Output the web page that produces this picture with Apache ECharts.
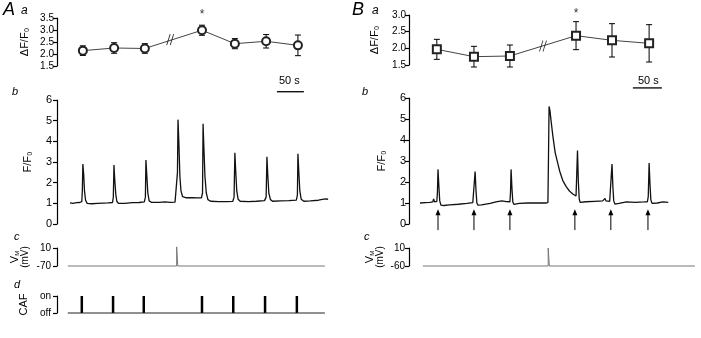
<!DOCTYPE html>
<html>
<head>
<meta charset="utf-8">
<script src="https://cdn.jsdelivr.net/npm/echarts@6/dist/echarts.min.js"></script>
<style>
html, body { margin: 0; padding: 0; background: #fff; }
#chart { width: 701px; height: 338px; }
</style>
</head>
<body>
<div id="chart"></div>
<script>
// ---- data (time in s) ----
// A: summary of caffeine responses
const aTimesA = [48, 106, 163, 269, 330, 388, 447];
const aMeanA  = [2.14, 2.25, 2.23, 2.99, 2.43, 2.53, 2.36];
const aErrA   = [0.2, 0.22, 0.2, 0.21, 0.21, 0.28, 0.43];
const breakA  = [[210, 2.6]];
const starA   = [[269, 3.62]];

// B: summary
const aTimesB = [48, 112, 174, 288, 350, 414];
const aMeanB  = [1.97, 1.75, 1.77, 2.38, 2.24, 2.15];
const aErrB   = [0.3, 0.31, 0.33, 0.42, 0.5, 0.56];
const breakB  = [[231, 2.07]];
const starB   = [[288, 3.04]];

// F/F0 traces
const traceA = [
  [24,1.02],[30,1.0],[36,1.03],[42,1.04],[46,1.08],[47,1.6],[48,2.9],[49.5,2.4],[51,1.6],[53,1.15],[56,1.0],
  [65,0.98],[75,1.0],[85,1.01],[95,1.02],[103,1.04],[104.5,1.3],[105.7,2.85],[107,2.2],[109,1.45],[111,1.1],[114,1.0],
  [125,1.0],[140,1.03],[152,1.04],[162,1.07],[164,1.3],[165,3.1],[166.5,2.4],[168.5,1.5],[171,1.12],[175,1.05],
  [190,1.05],[200,1.07],[210,1.05],[219,1.06],[222,1.1],[223.5,2.5],[224.5,5.05],[226,4.0],[228,2.3],[230,1.6],[233,1.32],
  [240,1.27],[250,1.28],[260,1.26],[268,1.27],[270,1.5],[271,4.85],[272.5,3.7],[274.5,2.3],[277,1.5],[280,1.18],[285,1.1],
  [300,1.08],[315,1.08],[326,1.09],[328.5,1.3],[330,3.45],[331.5,2.6],[333.5,1.6],[336,1.2],[340,1.1],
  [355,1.08],[370,1.1],[385,1.13],[388,1.3],[389.5,3.25],[391,2.4],[393,1.5],[396,1.18],[400,1.1],
  [415,1.12],[430,1.13],[444,1.16],[446,1.4],[447,3.4],[448.5,2.6],[450.5,1.6],[453,1.2],[458,1.1],
  [470,1.12],[485,1.15],[495,1.2],[500,1.22],[503,1.19]
];
const traceB = [
  [19,1.0],[28,1.02],[36,1.03],[41,1.05],[42.5,1.2],[44,1.05],[48,1.08],[49,1.5],[50,2.6],[51.5,1.8],[53,1.1],[55,0.9],
  [60,0.88],[70,0.91],[85,0.94],[100,0.98],[110,1.02],[112.5,1.1],[114,2.5],[115.5,1.6],[117,1.0],[119,0.9],
  [125,0.91],[140,0.98],[150,1.05],[160,1.1],[168,1.07],[174,1.06],[175,1.5],[176,2.6],[177.5,1.7],[179,1.05],[181,0.93],
  [190,0.98],[205,1.0],[220,1.0],[235,1.0],[239.5,1.02],[240.5,3.2],[241.5,5.6],[243,5.4],[245,4.9],[248,4.2],[252,3.4],
  [256,2.95],[260,2.5],[265,2.08],[271,1.78],[277,1.56],[283,1.42],[288,1.33],[289.5,1.4],[290.5,3.5],[292,2.0],[293.5,1.2],
  [295,1.03],[305,1.06],[320,1.08],[334,1.1],[337,1.13],[338,1.22],[339.5,1.1],[346,1.08],[348.5,1.15],[350,2.85],
  [351.5,1.8],[353,1.1],[355,0.95],[362,0.98],[375,1.05],[390,1.03],[405,1.05],[411,1.06],[412.5,1.3],[414,2.9],
  [415.5,1.9],[417,1.15],[419,0.98],[428,1.0],[438,1.05],[447,1.03]
];
// caffeine arrows under trace B: time, tail, tip (F/F0 units)
const arrowTimesB = [50, 112, 174, 286, 348, 412];
const arrowTail = -0.29;
const arrowTip = 0.7;

// membrane potential (mV)
const vmA = [[20,-70],[222,-70],[222,15],[224,15],[224,-70],[497,-70]];
const vmB = [[24,-60],[240,-60],[240,10],[242,10],[242,-60],[493,-60]];
const vmTicksA = [-70, 10];
const vmTicksB = [-60, 10];

// caffeine application
const cafTimesA = [46, 104, 161, 269, 327, 386, 445];
const cafBaseA = [[20,0],[497,0]];

// 50 s scale bars
const scaleA = [[408,6.4],[458,6.4]];
const scaleB = [[386,6.48],[436,6.48]];

// ---- layout helpers ----
const FONT = 'Liberation Sans';
const chart = echarts.init(document.getElementById('chart'));

// px position of t=0 and px per second for each half
const scA = { x0: 57, pps: 0.539 };
const scB = { x0: 409, pps: 0.58 };

const grids = [
  { left: 57, top: 18, width: 275, height: 48 },   // 0 Aa
  { left: 55, top: 100, width: 277, height: 124 }, // 1 Ab
  { left: 54, top: 248, width: 278, height: 18 },  // 2 Ac
  { left: 54, top: 296, width: 278, height: 17 },  // 3 Ad
  { left: 409, top: 15, width: 290, height: 50 },  // 4 Ba
  { left: 409, top: 98, width: 290, height: 126 }, // 5 Bb
  { left: 408, top: 248, width: 291, height: 18 }  // 6 Bc
];
const scales = [scA, scA, scA, scA, scB, scB, scB];

const xAxes = grids.map((g, i) => ({
  type: 'value', gridIndex: i, show: false,
  min: (g.left - scales[i].x0) / scales[i].pps,
  max: (g.left + g.width - scales[i].x0) / scales[i].pps
}));

function yAx(gi, min, max, extra) {
  return Object.assign({
    type: 'value', gridIndex: gi, min: min, max: max,
    axisLine: { show: true, lineStyle: { color: '#000', width: 1.2 } },
    axisTick: { show: true, length: 4, lineStyle: { color: '#000', width: 1.2 } },
    splitLine: { show: false },
    axisLabel: { color: '#000', fontFamily: FONT, fontSize: 11, margin: 3 },
    nameLocation: 'middle', nameRotate: 90,
    nameTextStyle: { color: '#000', fontFamily: FONT, fontSize: 11 }
  }, extra);
}

const vmName = {
  color: '#000', fontFamily: FONT, fontSize: 10, lineHeight: 10,
  rich: {
    v: { fontFamily: FONT, fontSize: 11, color: '#000' },
    m: { fontFamily: FONT, fontSize: 6, color: '#000', verticalAlign: 'bottom' }
  }
};

const yAxes = [
  yAx(0, 1.5, 3.5, { interval: 0.5, name: 'ΔF/F₀', nameGap: 27,
    axisLabel: { color: '#000', fontFamily: FONT, fontSize: 10, margin: 3, formatter: v => v.toFixed(1) } }),
  yAx(1, 0, 6, { interval: 1, name: 'F/F₀', nameGap: 22 }),
  yAx(2, -70, 10, {
    axisTick: { show: true, length: 4, customValues: vmTicksA, lineStyle: { color: '#000', width: 1.2 } },
    axisLabel: { color: '#000', fontFamily: FONT, fontSize: 10, margin: 3, customValues: vmTicksA },
    name: '{v|V}{m|M}\n(mV)', nameGap: 24, nameTextStyle: vmName
  }),
  yAx(3, 0, 1, { interval: 1, name: 'CAF', nameGap: 25,
    axisLabel: { color: '#000', fontFamily: FONT, fontSize: 10, margin: 3, formatter: v => v ? 'on' : 'off' } }),
  yAx(4, 1.5, 3.0, { interval: 0.5, name: 'ΔF/F₀', nameGap: 29,
    axisLabel: { color: '#000', fontFamily: FONT, fontSize: 10, margin: 3, formatter: v => v.toFixed(1) } }),
  yAx(5, 0, 6, { interval: 1, name: 'F/F₀', nameGap: 22 }),
  yAx(6, -60, 10, {
    axisTick: { show: true, length: 4, customValues: vmTicksB, lineStyle: { color: '#000', width: 1.2 } },
    axisLabel: { color: '#000', fontFamily: FONT, fontSize: 10, margin: 3, customValues: vmTicksB },
    name: '{v|V}{m|M}\n(mV)', nameGap: 23, nameTextStyle: vmName
  })
];

// error bars with small caps
function renderErr(params, api) {
  const x = api.value(0);
  const top = api.coord([x, api.value(2)]);
  const bot = api.coord([x, api.value(1)]);
  const w = 3;
  const st = { stroke: '#000', lineWidth: 1 };
  return {
    type: 'group', children: [
      { type: 'line', shape: { x1: top[0], y1: top[1], x2: bot[0], y2: bot[1] }, style: st },
      { type: 'line', shape: { x1: top[0] - w, y1: top[1], x2: top[0] + w, y2: top[1] }, style: st },
      { type: 'line', shape: { x1: bot[0] - w, y1: bot[1], x2: bot[0] + w, y2: bot[1] }, style: st }
    ]
  };
}

// upward arrow from tail to tip
function renderArrow(params, api) {
  const t = api.value(0);
  const p0 = api.coord([t, api.value(1)]);
  const p1 = api.coord([t, api.value(2)]);
  return {
    type: 'group', children: [
      { type: 'line', shape: { x1: p0[0], y1: p0[1], x2: p1[0], y2: p1[1] + 4 },
        style: { stroke: '#000', lineWidth: 1 } },
      { type: 'polygon', shape: { points: [[p1[0], p1[1]], [p1[0] - 2.5, p1[1] + 6], [p1[0] + 2.5, p1[1] + 6]] },
        style: { fill: '#000' } }
    ]
  };
}

function summarySeries(gi, times, mean, err, symbol, brk, star) {
  return [
    { type: 'custom', xAxisIndex: gi, yAxisIndex: gi, renderItem: renderErr, z: 2, silent: true,
      data: times.map((t, i) => [t, mean[i] - err[i], mean[i] + err[i]]) },
    { type: 'line', xAxisIndex: gi, yAxisIndex: gi, z: 3, silent: true,
      data: times.map((t, i) => [t, mean[i]]),
      symbol: symbol, symbolSize: 8,
      lineStyle: { color: '#444', width: 1 },
      itemStyle: { color: '#222', borderColor: '#222', borderWidth: 0.9 } },
    { type: 'scatter', xAxisIndex: gi, yAxisIndex: gi, z: 4, silent: true, data: brk,
      symbol: 'path://M0,12 L4,0 M4,12 L8,0', symbolSize: [7, 11],
      itemStyle: { color: 'none', borderColor: '#000', borderWidth: 1 } },
    { type: 'scatter', xAxisIndex: gi, yAxisIndex: gi, data: star, symbolSize: 0, clip: false, silent: true,
      label: { show: true, formatter: '*', color: '#000', fontFamily: FONT, fontSize: 12, position: 'inside' } }
  ];
}

const series = [].concat(
  summarySeries(0, aTimesA, aMeanA, aErrA, 'emptyCircle', breakA, starA),
  summarySeries(4, aTimesB, aMeanB, aErrB, 'emptyRect', breakB, starB),
  [
    { type: 'line', xAxisIndex: 1, yAxisIndex: 1, data: traceA, symbol: 'none', clip: false, silent: true,
      lineStyle: { color: '#111', width: 1.3 } },
    { type: 'line', xAxisIndex: 1, yAxisIndex: 1, data: scaleA, symbol: 'none', clip: false, silent: true,
      lineStyle: { color: '#000', width: 1.3 } },
    { type: 'line', xAxisIndex: 5, yAxisIndex: 5, data: traceB, symbol: 'none', clip: false, silent: true,
      lineStyle: { color: '#111', width: 1.3 } },
    { type: 'custom', xAxisIndex: 5, yAxisIndex: 5, renderItem: renderArrow, clip: false, silent: true,
      data: arrowTimesB.map(t => [t, arrowTail, arrowTip]) },
    { type: 'line', xAxisIndex: 5, yAxisIndex: 5, data: scaleB, symbol: 'none', clip: false, silent: true,
      lineStyle: { color: '#000', width: 1.3 } },
    { type: 'line', xAxisIndex: 2, yAxisIndex: 2, data: vmA, symbol: 'none', clip: false, silent: true,
      lineStyle: { color: '#777', width: 1 } },
    { type: 'line', xAxisIndex: 6, yAxisIndex: 6, data: vmB, symbol: 'none', clip: false, silent: true,
      lineStyle: { color: '#777', width: 1 } },
    { type: 'line', xAxisIndex: 3, yAxisIndex: 3, data: cafBaseA, symbol: 'none', clip: false, silent: true,
      lineStyle: { color: '#222', width: 1.2 } },
    { type: 'bar', xAxisIndex: 3, yAxisIndex: 3, data: cafTimesA.map(t => [t, 1]), barWidth: 2.5, silent: true,
      itemStyle: { color: '#000' } }
  ]
);

function txt(left, top, text, size, italic) {
  return { type: 'text', left: left, top: top, silent: true,
    style: { text: text, fill: '#000', font: (italic ? 'italic ' : '') + size + 'px "' + FONT + '"' } };
}

chart.setOption({
  animation: false,
  backgroundColor: '#fff',
  grid: grids,
  xAxis: xAxes,
  yAxis: yAxes,
  series: series,
  graphic: [
    txt(3, 1, 'A', 18, true), txt(21, 5, 'a', 12, true),
    txt(352, 1, 'B', 18, true), txt(372, 5, 'a', 12, true),
    txt(12, 86, 'b', 11, true), txt(362, 86, 'b', 11, true),
    txt(14, 231, 'c', 11, true), txt(364, 231, 'c', 11, true),
    txt(14, 279, 'd', 11, true),
    txt(279, 75, '50 s', 11, false), txt(638, 75, '50 s', 11, false)
  ]
});
</script>
</body>
</html>
